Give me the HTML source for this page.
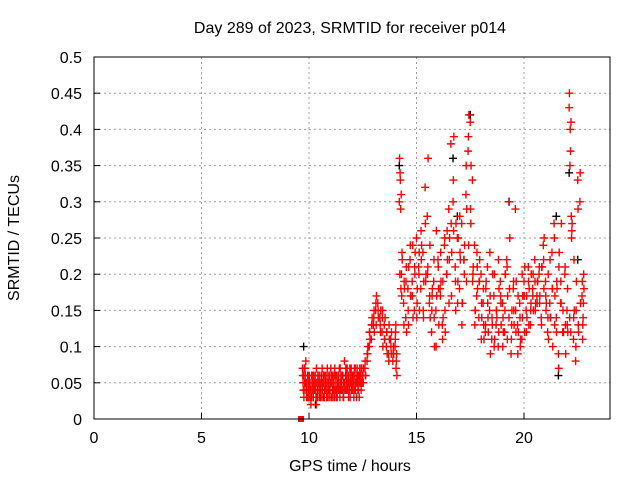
<!DOCTYPE html>
<html><head><meta charset="utf-8"><style>
body{margin:0;background:#fff}
svg{display:block;font-family:"Liberation Sans",sans-serif;font-size:16px}
</style></head><body>
<svg id="chart" width="640" height="480" viewBox="0 0 640 480">
<text x="350" y="33" text-anchor="middle">Day 289 of 2023, SRMTID for receiver p014</text>
<text transform="translate(19,238) rotate(-90)" text-anchor="middle">SRMTID / TECUs</text>
<text x="350" y="471" text-anchor="middle">GPS time / hours</text>
<g id="grid"></g>
<g id="ticks"></g>
<g id="marks"></g>
<rect x="94" y="57" width="516" height="362" fill="none" stroke="#000" stroke-width="1"/>
</svg>
<script>
const xTicks=[0,5,10,15,20];
const yTicks=[0,0.05,0.1,0.15,0.2,0.25,0.3,0.35,0.4,0.45,0.5];
const yTickLabels=["0","0.05","0.1","0.15","0.2","0.25","0.3","0.35","0.4","0.45","0.5"];
const redTimes=[9.70,9.75,9.80,9.85,9.90,9.95,10.0,10.05,10.1,10.15,10.2,10.25,10.3,10.35,10.4,10.45,10.5,10.55,10.6,10.65,10.7,10.75,10.8,10.85,10.9,10.95,11.0,11.05,11.1,11.15,11.2,11.25,11.3,11.35,11.4,11.45,11.5,11.55,11.6,11.65,11.7,11.75,11.8,11.85,11.9,11.95,12.0,12.05,12.1,12.15,12.2,12.25,12.3,12.35,12.4,12.45,12.5,12.6,12.7,12.8,12.9,13.0,13.1,13.2,13.3,13.4,13.5,13.6,13.7,13.8,13.9,14.0,14.05,14.2,14.25,14.3,14.4,14.5,14.6,14.7,14.8,14.9,15.0,15.1,15.2,15.3,15.4,15.5,15.6,15.7,15.8,15.9,16.0,16.1,16.2,16.3,16.4,16.5,16.6,16.7,16.8,16.9,17.0,17.1,17.2,17.3,17.4,17.5,17.6,17.7,17.8,17.9,18.0,18.1,18.2,18.3,18.4,18.5,18.6,18.7,18.8,18.9,19.0,19.1,19.2,19.3,19.4,19.5,19.6,19.7,19.8,19.9,20.0,20.1,20.2,20.3,20.4,20.5,20.6,20.7,20.8,20.9,21.0,21.1,21.2,21.3,21.4,21.5,21.6,21.7,21.8,21.9,22.0,22.1,22.15,22.2,22.3,22.4,22.5,22.6,22.7,22.75];
const redValues=[0.07,0.06,0.05,0.08,0.04,0.06,0.03,0.05,0.04,0.06,0.03,0.05,0.04,0.07,0.03,0.05,0.06,0.04,0.05,0.03,0.06,0.04,0.05,0.07,0.04,0.06,0.05,0.03,0.06,0.04,0.07,0.05,0.06,0.04,0.05,0.07,0.06,0.04,0.05,0.08,0.06,0.05,0.04,0.06,0.07,0.05,0.06,0.04,0.05,0.07,0.05,0.06,0.04,0.06,0.05,0.07,0.06,0.07,0.08,0.10,0.11,0.13,0.15,0.16,0.14,0.12,0.13,0.10,0.09,0.11,0.08,0.10,0.07,0.30,0.33,0.20,0.16,0.14,0.18,0.22,0.19,0.15,0.25,0.21,0.18,0.23,0.32,0.28,0.16,0.12,0.19,0.15,0.22,0.18,0.13,0.24,0.20,0.29,0.38,0.30,0.21,0.25,0.18,0.27,0.22,0.31,0.37,0.41,0.33,0.24,0.17,0.14,0.20,0.16,0.12,0.21,0.15,0.11,0.17,0.13,0.10,0.19,0.16,0.12,0.22,0.14,0.09,0.18,0.29,0.13,0.16,0.11,0.19,0.15,0.21,0.13,0.18,0.22,0.17,0.20,0.14,0.24,0.19,0.12,0.16,0.23,0.27,0.14,0.09,0.16,0.12,0.20,0.15,0.43,0.40,0.28,0.11,0.08,0.33,0.30,0.17,0.14];
const redValues2=[0.05,0.04,0.06,0.05,0.03,0.04,0.05,0.03,0.06,0.04,0.05,0.04,0.03,0.05,0.06,0.04,0.03,0.05,0.04,0.06,0.04,0.05,0.03,0.05,0.06,0.04,0.03,0.05,0.04,0.06,0.04,0.03,0.05,0.06,0.04,0.05,0.04,0.06,0.04,0.05,0.04,0.07,0.05,0.04,0.05,0.04,0.05,0.06,0.04,0.05,0.06,0.04,0.05,0.06,0.04,0.05,0.05,0.06,0.09,0.12,0.13,0.15,0.13,0.14,0.12,0.15,0.11,0.12,0.13,0.09,0.10,0.12,0.09,0.20,0.18,0.23,0.19,0.21,0.13,0.17,0.24,0.20,0.16,0.23,0.22,0.14,0.19,0.21,0.24,0.17,0.14,0.26,0.18,0.23,0.19,0.15,0.26,0.22,0.17,0.26,0.15,0.19,0.23,0.16,0.20,0.19,0.24,0.27,0.20,0.15,0.21,0.19,0.16,0.13,0.18,0.14,0.17,0.13,0.20,0.15,0.12,0.16,0.14,0.20,0.11,0.18,0.13,0.15,0.12,0.17,0.10,0.14,0.12,0.17,0.13,0.16,0.20,0.15,0.19,0.16,0.21,0.18,0.15,0.20,0.14,0.18,0.13,0.19,0.21,0.16,0.12,0.13,0.18,0.14,0.12,0.26,0.22,0.15,0.13,0.16,0.11,0.20,0.19,0.15];
const redValues3=[0.06,0.03,0.07,0.04,0.05,0.03,0.06,0.04,0.03,0.05,0.06,0.04,0.05,0.03,0.06,0.04,0.05,0.03,0.07,0.05,0.03,0.06,0.04,0.03,0.05,0.04,0.07,0.05,0.03,0.05,0.04,0.06,0.03,0.05,0.07,0.04,0.05,0.06,0.03,0.05,0.07,0.04,0.06,0.05,0.03,0.07,0.04,0.05,0.07,0.04,0.03,0.05,0.06,0.07,0.06,0.05,
0.05,0.08,0.09,0.12,0.13,0.14,0.16,0.15,0.13,0.14,0.11,0.12,0.08,0.10,0.09,0.11,0.08,
0.36,0.29,0.17,0.13,0.19,0.15,0.24,0.17,0.21,0.14,0.20,0.26,0.15,0.27,0.20,0.17,0.15,0.22,0.10,0.21,0.17,0.11,0.25,0.20,0.16,0.27,0.33,0.19,0.16,0.28,0.13,0.22,0.35,0.39,0.29,0.19,0.13,0.23,0.19,0.11,0.18,0.13,0.16,0.23,0.14,0.10,0.15,0.22,0.17,0.10,0.15,0.21,0.30,0.11,0.19,0.15,0.09,0.14,0.20,0.17,0.12,0.19,0.15,0.17,0.19,0.16,0.21,0.13,0.22,0.17,0.14,0.22,0.18,0.25,0.12,0.07,0.19,0.15,0.21,0.13,0.45,0.37,0.25,0.14,0.10,0.29,0.34,0.19,0.16];
const redValues4=[0.04,0.07,0.05,0.03,0.06,0.05,0.04,0.02,0.05,0.03,0.04,0.06,0.02,0.04,0.05,0.03,0.04,0.06,0.05,0.03,0.05,0.04,0.06,0.04,0.03,0.05,0.06,0.04,0.05,0.03,0.06,0.04,0.05,0.04,0.03,0.06,0.04,0.03,0.05,0.04,0.06,0.05,0.03,0.04,0.06,0.05,0.06,0.03,0.06,0.05,0.07,0.04,0.03,0.05,0.07,0.06,
0.07,0.06,0.10,0.11,0.14,0.12,0.17,0.14,0.15,0.10,0.14,0.09,0.11,0.12,0.09,0.13,0.06,
0.34,0.31,0.22,0.18,0.12,0.21,0.17,0.14,0.23,0.18,0.15,0.24,0.19,0.20,0.36,0.14,0.18,0.10,0.17,0.13,0.19,0.14,0.12,0.22,0.25,0.23,0.39,0.27,0.25,0.22,0.16,0.24,0.29,0.42,0.35,0.21,0.15,0.18,0.22,0.14,0.11,0.19,0.12,0.09,0.20,0.11,0.14,0.18,0.13,0.12,0.20,0.17,0.25,0.15,0.13,0.19,0.12,0.11,0.17,0.21,0.14,0.18,0.20,0.15,0.16,0.19,0.17,0.21,0.25,0.16,0.11,0.14,0.10,0.17,0.18,0.23,0.27,0.12,0.09,0.12,0.35,0.41,0.27,0.15,0.19,0.12,0.16,0.13,0.18];
const blackTimes=[9.75,10.3,14.2,16.7,16.9,17.5,19.3,21.5,21.6,22.1,22.5];
const blackValues=[0.10,0.02,0.35,0.36,0.28,0.42,0.30,0.28,0.06,0.34,0.22];
const squareTimes=[9.63];
const squareValues=[0];

const X0=94,X1=610,Y0=419,Y1=57,XMAX=24,YMAX=0.5;
const sx=h=>X0+(X1-X0)*h/XMAX;
const sy=v=>Y0-(Y0-Y1)*v/YMAX;
const NS="http://www.w3.org/2000/svg";
const grid=document.getElementById('grid'),ticks=document.getElementById('ticks'),marks=document.getElementById('marks');
function mk(tag,attrs,parent){const e=document.createElementNS(NS,tag);for(const k in attrs)e.setAttribute(k,attrs[k]);parent.appendChild(e);return e;}
xTicks.forEach(t=>{
  const x=sx(t);
  if(t>0){const g=mk('line',{x1:x,x2:x,y1:Y0,y2:Y1,stroke:'#a0a0a0','stroke-dasharray':'2,3'},grid);
  
  }
  const tm=mk('line',{x1:x,x2:x,y1:Y0,y2:Y0-6,stroke:'#000'},ticks);
  
  
  const lb=mk('text',{x:x,y:Y0+24,'text-anchor':'middle'},ticks);lb.textContent=String(t);
  
  
});
yTicks.forEach((t,i)=>{
  const y=sy(t);
  if(i>0&&i<yTicks.length-1){const g=mk('line',{x1:X0,x2:X1,y1:y,y2:y,stroke:'#a0a0a0','stroke-dasharray':'2,3'},grid);
  
  }
  const tm=mk('line',{x1:X0,x2:X0+6,y1:y,y2:y,stroke:'#000'},ticks);
  
  
  const lb=mk('text',{x:X0-12,y:y+6,'text-anchor':'end'},ticks);lb.textContent=yTickLabels[i];
  
  
});
function plus(h,v,color){
  const x=sx(h),y=sy(v);
  const p=mk('path',{d:`M${x-4},${y}H${x+4}M${x},${y-4}V${y+4}`,stroke:color,'stroke-width':1.4,fill:'none'},marks);
  
  
}
blackTimes.forEach((h,i)=>plus(h,blackValues[i],'#000'));
const redSeries=[[redValues,0],[redValues2,0.025],[redValues3,0.0125],[redValues4,0.0375]];
redSeries.forEach(([vals,off])=>{
  redTimes.forEach((h,i)=>{if(vals[i]!==undefined)plus(h+off,vals[i],'#f00');});
});
squareTimes.forEach((h,i)=>{
  const r=mk('rect',{x:sx(h)-3,y:sy(squareValues[i])-3,width:6,height:6,fill:'#f00'},marks);
  
  
});
</script>
</body></html>
